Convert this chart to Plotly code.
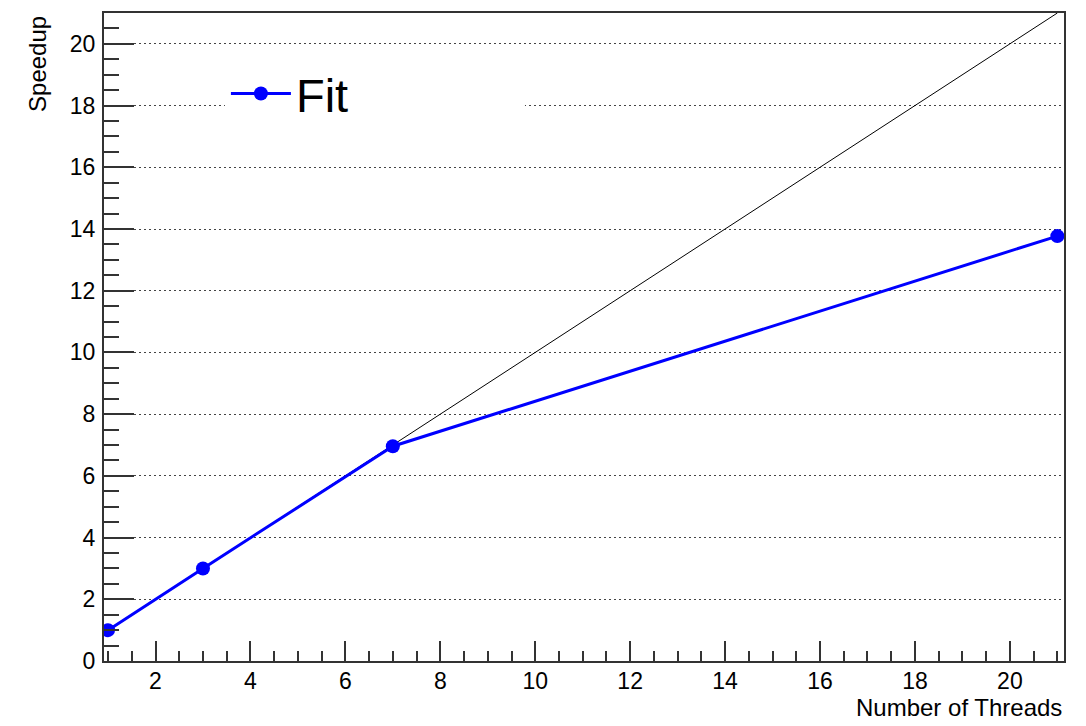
import plotly.graph_objects as go

threads = [1, 3, 7, 21]
speedup = [1.0, 3.0, 6.96, 13.77]
ideal_x = [1, 21]
ideal_y = [1, 21]

FONT = "Liberation Sans, Arial, Helvetica, sans-serif"
AX = "#333333"

fig = go.Figure()
fig.add_trace(go.Scatter(x=ideal_x, y=ideal_y, mode="lines",
                         line=dict(color="black", width=1), showlegend=False, hoverinfo="skip"))
fig.add_trace(go.Scatter(x=threads, y=speedup, mode="lines+markers", name="Fit",
                         line=dict(color="#0000ff", width=3),
                         marker=dict(color="#0000ff", size=14)))

# white legend box hiding the grid behind the legend
fig.add_shape(type="rect", xref="paper", yref="paper",
              x0=0.126, x1=0.4385, y0=0.817, y1=0.932,
              fillcolor="white", line=dict(width=0), layer="above")

fig.update_layout(
    width=1078, height=718,
    margin=dict(l=96, r=22, t=3, b=65),
    paper_bgcolor="white", plot_bgcolor="white",
    font=dict(family=FONT, color="black"),
    showlegend=True,
    legend=dict(x=0.127, y=0.875, xanchor="left", yanchor="middle",
                bgcolor="rgba(0,0,0,0)", font=dict(size=47, family=FONT),
                itemwidth=60),
    xaxis=dict(range=[0.915, 21.14], showgrid=False, zeroline=False,
               showline=True, linecolor=AX, linewidth=2, mirror=True,
               ticks="inside", ticklen=20, tickwidth=2, tickcolor=AX,
               tick0=0, dtick=2, tickfont=dict(size=23, family=FONT),
               ticklabelstandoff=-2,
               minor=dict(ticks="inside", ticklen=10, dtick=0.5, tickwidth=2,
                          tickcolor=AX, showgrid=False)),
    yaxis=dict(range=[0, 21.0], showgrid=True, gridcolor="#444444", griddash="1.5px,3.5px",
               gridwidth=1.2, zeroline=False,
               showline=True, linecolor=AX, linewidth=2, mirror=True,
               ticks="inside", ticklen=30, tickwidth=2, tickcolor=AX,
               tick0=0, dtick=2, tickfont=dict(size=23, family=FONT),
               ticklabelstandoff=2,
               minor=dict(ticks="inside", ticklen=15, dtick=0.5, tickwidth=2,
                          tickcolor=AX, showgrid=False)),
    annotations=[
        dict(text="Number of Threads", xref="paper", yref="paper", x=1.0, y=-0.0723,
             xanchor="right", yanchor="middle", showarrow=False, font=dict(size=24, family=FONT)),
        dict(text="Speedup", xref="paper", yref="paper", x=-0.06875, y=0.9985,
             xanchor="center", yanchor="top", textangle=-90, showarrow=False,
             font=dict(size=24, family=FONT)),
    ],
)

fig.write_html("out.html")
